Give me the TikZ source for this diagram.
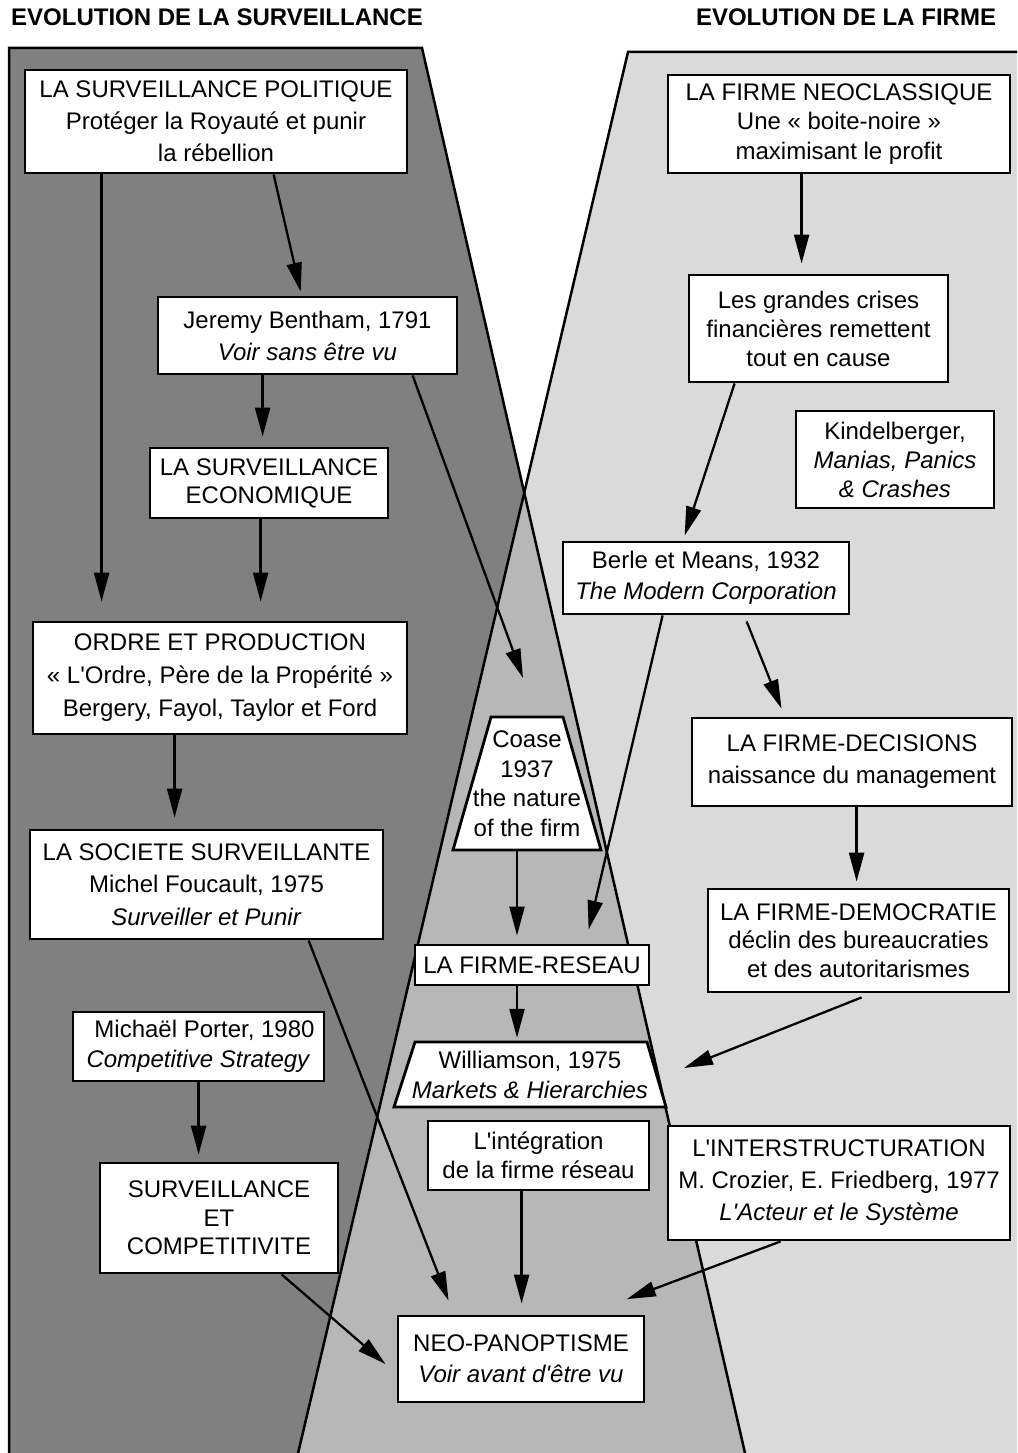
\documentclass[tikz,border=0pt]{standalone}
\usepackage{fontspec}
\setmainfont{Liberation Sans}[Ligatures=TeXOff]
\usetikzlibrary{arrows.meta,calc}

\definecolor{survgray}{HTML}{808080}
\definecolor{firmgray}{HTML}{DADADA}
\definecolor{mixgray}{HTML}{B7B7B7}

\tikzset{
  lead/.style={font=\fontsize{24}{#1}\selectfont},
  box/.style={draw, line width=2.8pt, fill=white, inner sep=0pt, align=center, lead=30},
  label/.style={inner sep=0pt, align=center, lead=30},
  shapeline/.style={draw, line width=2.8pt, fill=white, line join=miter},
  edge/.style={line width=2.5pt, line join=miter},
  link/.style={line width=2.3pt, -{Triangle[length=29pt,width=15pt]}},
  heading/.style={font=\fontsize{24}{28}\selectfont\bfseries, anchor=base, inner sep=0pt},
}

\begin{document}
\begin{tikzpicture}[x=1pt,y=-1pt]
\useasboundingbox (0,0) rectangle (1017,1453);

% the two overlapping fields
\begin{scope}
  \clip (0,0) rectangle (1017,1453);
  \fill[survgray] (9,48) -- (422,48) -- (748.9,1470) -- (9,1470) -- cycle;
  \fill[firmgray] (628,52) -- (1030,52) -- (1030,1470) -- (294.1,1470) -- cycle;
  \fill[mixgray] (524.2,492.7) -- (748.9,1470) -- (294.1,1470) -- cycle;
  \draw[edge] (9,1470) -- (9,48) -- (422,48) -- (748.9,1470);
  \draw[edge] (1030,52) -- (628,52) -- (294.1,1470);
\end{scope}

% headings
\node[heading] (hsurv) at (217,26) {EVOLUTION DE LA SURVEILLANCE};
\node[heading] (hfirm) at (846,26) {EVOLUTION DE LA FIRME};

% surveillance column
\node[box, lead=32, minimum width=382pt, minimum height=103pt] (pol) at (216,121.5)
  {LA SURVEILLANCE POLITIQUE\\Protéger la Royauté et punir\\la rébellion};
\node[box, lead=32, minimum width=299pt, minimum height=77pt] (ben) at (307.5,335.5)
  {Jeremy Bentham, 1791\\\textit{Voir sans être vu}};
\node[box, lead=28, minimum width=238pt, minimum height=70pt] (eco) at (269,483)
  {LA SURVEILLANCE\\ECONOMIQUE};
\node[box, lead=33, minimum width=374pt, minimum height=112pt] (ord) at (220,678)
  {ORDRE ET PRODUCTION\\« L'Ordre, Père de la Propérité »\\Bergery, Fayol, Taylor et Ford};
\node[box, lead=32.5, minimum width=353pt, minimum height=109pt] (soc) at (206.5,884.5)
  {LA SOCIETE SURVEILLANTE\\Michel Foucault, 1975\\\textit{Surveiller et Punir}};
\node[box, lead=30, minimum width=251pt, minimum height=69pt] (por) at (198.5,1046.5)
  {\hspace*{12pt}Michaël Porter, 1980\\\textit{Competitive Strategy}};
\node[box, lead=28.5, minimum width=238pt, minimum height=110pt] (comp) at (219,1218)
  {SURVEILLANCE\\ET\\COMPETITIVITE};
\node[box, lead=31, minimum width=246pt, minimum height=86pt] (neo) at (521,1359)
  {NEO-PANOPTISME\\\textit{Voir avant d'être vu}};

% firm column
\node[box, lead=29.5, minimum width=342pt, minimum height=98pt] (fneo) at (839,124)
  {LA FIRME NEOCLASSIQUE\\Une « boite-noire »\\maximisant le profit};
\node[box, lead=29, minimum width=259pt, minimum height=107pt] (cris) at (818.5,328.5)
  {Les grandes crises\\financières remettent\\tout en cause};
\node[box, lead=29, minimum width=198pt, minimum height=97pt] (kin) at (895,459.5)
  {Kindelberger,\\\textit{Manias, Panics}\\\textit{\& Crashes}};
\node[box, lead=31, minimum width=286pt, minimum height=72pt] (berle) at (706,578)
  {Berle et Means, 1932\\\textit{The Modern Corporation}};
\node[box, lead=32, minimum width=320pt, minimum height=88pt] (dec) at (852,762)
  {LA FIRME-DECISIONS\\naissance du management};
\node[box, lead=28.5, minimum width=301pt, minimum height=103pt] (dem) at (858.5,940.5)
  {LA FIRME-DEMOCRATIE\\déclin des bureaucraties\\et des autoritarismes};
\node[box, lead=32, minimum width=342pt, minimum height=114pt] (inter) at (839,1183)
  {L'INTERSTRUCTURATION\\M. Crozier, E. Friedberg, 1977\\\textit{L'Acteur et le Système}};

% middle: where both evolutions meet
\path[shapeline] (491,717) -- (563,717) -- (601,850) -- (453,850) -- cycle;
\node[label, lead=29.5, minimum height=133pt] (coase) at (527,783.5)
  {Coase\\1937\\the nature\\of the firm};
\node[box, minimum width=234pt, minimum height=40pt] (res) at (532,965)
  {LA FIRME-RESEAU};
\path[shapeline] (415,1042) -- (647,1042) -- (666,1107) -- (394,1107) -- cycle;
\node[label, lead=30, minimum height=65pt] (wil) at (530,1074.5)
  {Williamson, 1975\\\textit{Markets \& Hierarchies}};
\node[box, lead=29, minimum width=221pt, minimum height=69pt] (integ) at (538.5,1155.5)
  {L'intégration\\de la firme réseau};

% free ends of two arrows
\coordinate (benEnd) at (523,678);
\coordinate (demEnd) at (684,1068);

% connectors
\draw[link, shorten >=19pt] ([xshift=78pt]pol.south west) -- ([xshift=70pt]ord.north west);
\draw[link, shorten >=4pt] ([xshift=250pt]pol.south west) -- ([xshift=145pt]ben.north west);
\draw[link, shorten >=10pt] ([xshift=106pt]ben.south west) -- ([xshift=114pt]eco.north west);
\draw[link, shorten >=19pt] ([xshift=112pt]eco.south west) -- ([xshift=229pt]ord.north west);
\draw[link] ([xshift=256pt]ben.south west) -- (benEnd);
\draw[link, shorten >=11pt] ([xshift=143pt]ord.south west) -- ([xshift=146pt]soc.north west);
\draw[link, shorten >=15pt] ([xshift=280pt]soc.south west) -- ([xshift=57.4pt]neo.north west);
\draw[link, shorten >=7pt] ([xshift=127pt]por.south west) -- ([xshift=100pt]comp.north west);
\draw[link, shorten >=14.6pt] ([xshift=183pt]comp.south west) -- ([yshift=-14.6pt]neo.west);

\draw[link, shorten >=10pt] ([xshift=135pt]fneo.south west) -- ([xshift=114pt]cris.north west);
\draw[link, shorten >=5.3pt] ([xshift=47pt]cris.south west) -- ([xshift=121.4pt]berle.north west);
\draw[link, shorten >=14.4pt] ([xshift=101pt]berle.south west) -- ([xshift=171.7pt]res.north west);
\draw[link, shorten >=8.6pt] ([xshift=185pt,yshift=-6pt]berle.south west) -- ([xshift=94.1pt]dec.north west);
\draw[link, shorten >=6pt] ([xshift=166pt]dec.south west) -- ([xshift=150pt]dem.north west);
\draw[link] ([xshift=155pt,yshift=-4pt]dem.south west) -- (demEnd);

\draw[link, shorten >=8pt] ([xshift=-10pt]coase.south) -- ([xshift=-10pt]coase.south |- res.north);
\draw[link, shorten >=4pt] ([xshift=-10pt]coase.south |- res.south) -- ([xshift=-10pt]coase.south |- wil.north);
\draw[link, shorten >=11pt] ([xshift=95pt]integ.south west) -- ([xshift=95pt]integ.south west |- neo.north);
\draw[link, shorten >=44pt] ([xshift=114pt]inter.south west) -- ([xshift=189pt]neo.north west);
\end{tikzpicture}
\end{document}
